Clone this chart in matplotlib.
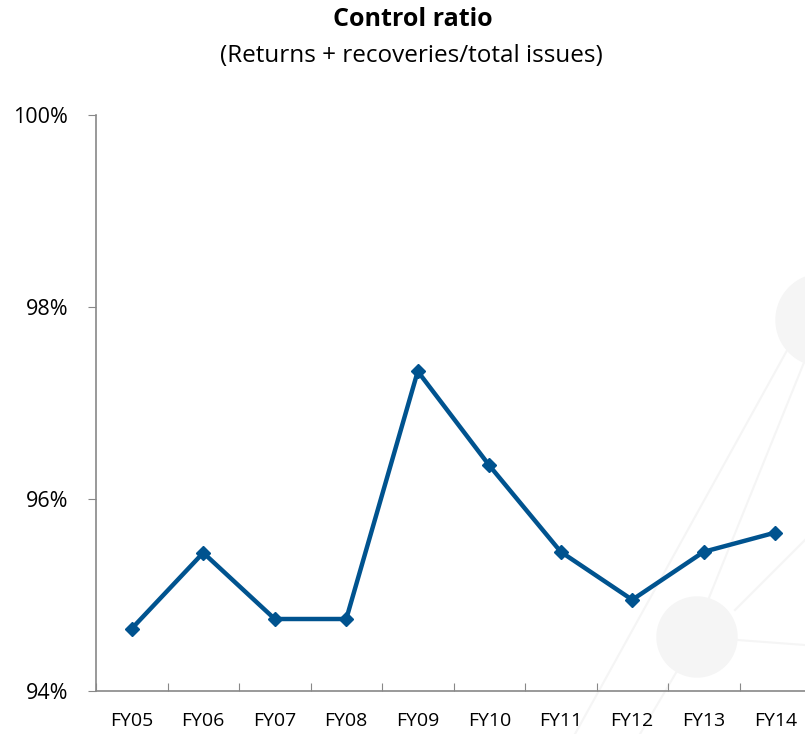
import numpy as np
from matplotlib import pyplot as plt
from matplotlib.patches import Circle
from matplotlib.lines import Line2D
from matplotlib.ticker import FixedLocator, FuncFormatter

years = ['FY05', 'FY06', 'FY07', 'FY08', 'FY09', 'FY10', 'FY11', 'FY12', 'FY13', 'FY14']
control_ratio = [94.65, 95.44, 94.75, 94.75, 97.33, 96.35, 95.45, 94.95, 95.45, 95.65]
y_ticks = [94, 96, 98, 100]

W, H = 805, 734
LINE_COLOR = '#00538f'

plt.rcParams['font.family'] = ['Open Sans', 'DejaVu Sans']


def px(x, y):
    # pixel coords (top-left origin) to figure fraction
    return x / W, 1 - y / H


def background(fig):
    """faint watermark circles and lines"""
    grey = '#f5f5f5'
    segs = [((575, 734), (790, 345)),
            ((700, 620), (805, 360)),
            ((697, 637), (805, 645)),
            ((697, 637), (640, 734)),
            ((735, 610), (805, 540))]
    for a, b in segs:
        xa, ya = px(*a)
        xb, yb = px(*b)
        fig.add_artist(Line2D([xa, xb], [ya, yb], color=grey, lw=1.5, zorder=0))
    for (cx, cy), r in [((822, 320), 46), ((697, 637), 40)]:
        fig.add_artist(Circle((cx, H - cy), r, transform=None, color=grey, zorder=0))


def plot():
    fig = plt.figure(figsize=(W / 100, H / 100), dpi=100)
    background(fig)

    ax = fig.add_axes([96 / W, 43 / H, 715 / W, 576 / H])
    ax.set_facecolor('none')

    x = np.arange(len(years))
    ax.plot(x, control_ratio, color=LINE_COLOR, lw=3.2, marker='D', ms=7.5,
            clip_on=False, zorder=3)

    ax.set_xlim(-0.5, len(years) - 0.5)
    ax.set_ylim(94, 100)

    ax.xaxis.set_major_locator(FixedLocator(np.arange(len(years) + 1) - 0.5))
    ax.set_xticklabels([])
    ax.set_xticks(x, years, minor=True)
    ax.tick_params(axis='x', which='major', direction='in', length=6, color='#888888')
    ax.tick_params(axis='x', which='minor', length=0, labelsize=14, pad=15)

    ax.set_yticks(y_ticks)
    ax.yaxis.set_major_formatter(FuncFormatter(lambda v, _: f'{v:.0f}%'))
    ax.tick_params(axis='y', direction='out', length=6, color='#888888',
                   labelsize=15.5, pad=14)

    for side in ['top', 'right']:
        ax.spines[side].set_visible(False)
    for side in ['left', 'bottom']:
        ax.spines[side].set_color('#888888')
        ax.spines[side].set_linewidth(1.2)

    fig.text(*px(413, 20), 'Control ratio', ha='center', va='center',
             fontsize=18, fontweight='bold')
    fig.text(*px(411, 56), '(Returns + recoveries/total issues)', ha='center',
             va='center', fontsize=17.5)

    fig.savefig('out.png', dpi=100)


def main():
    plot()


if __name__ == '__main__':
    main()
